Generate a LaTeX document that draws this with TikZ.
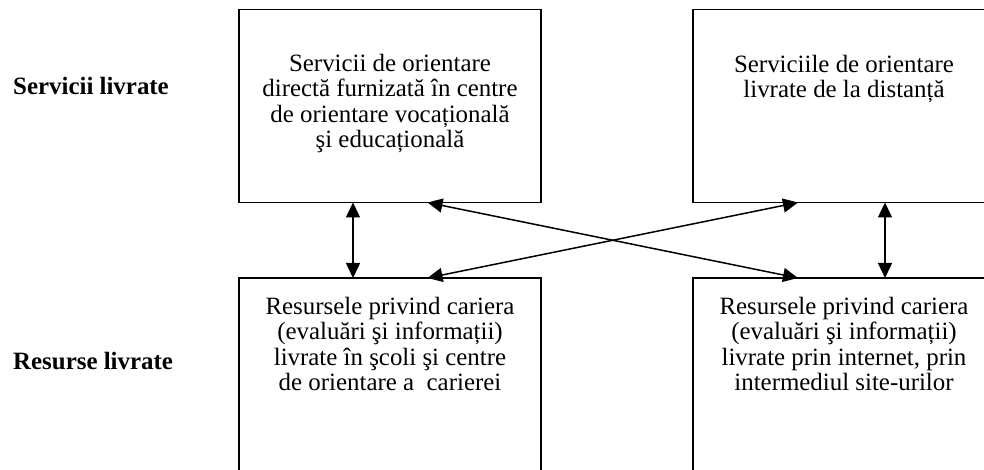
\documentclass[tikz,border=0pt]{standalone}
\usepackage{fontspec}
\setmainfont{Liberation Serif}
\usetikzlibrary{arrows.meta,calc}
\tikzset{
  box/.style={draw=black, line width=1.8pt, minimum width=302pt, inner sep=0pt, outer sep=0pt},
  boxtxt/.style={align=center, inner sep=0pt, anchor=north, font=\fontsize{24.9}{25.4}\selectfont},
  lbl/.style={inner sep=0pt, anchor=base west, font=\fontsize{24.9}{25.4}\selectfont\bfseries},
  link/.style={line width=1.5pt, {Triangle[length=15pt,width=14pt]}-{Triangle[length=15pt,width=14pt]}}
}
\begin{document}
\begin{tikzpicture}[x=1pt,y=1pt]
\useasboundingbox (0,0) rectangle (984,470);
\clip (0,0) rectangle (984,470);
% boxes
\node[box, minimum height=193pt] (tl) at (390,364) {};
\node[box, minimum height=193pt] (tr) at (844,364) {};
\node[box, minimum height=194pt] (bl) at (390,95) {};
\node[box, minimum height=194pt] (br) at (844,95) {};
% texts
\node[boxtxt] (tltxt) at (390,416) {Servicii de orientare\\directă furnizată în centre\\de orientare vocațională\\şi educațională};
\node[boxtxt] (trtxt) at (844,415) {Serviciile de orientare\\livrate de la distanță};
\node[boxtxt] (bltxt) at (390,173) {Resursele privind cariera\\(evaluări şi informații)\\livrate în şcoli şi centre\\de orientare a\ \ carierei};
\node[boxtxt] (brtxt) at (844,173) {Resursele privind cariera\\(evaluări şi informații)\\livrate prin internet, prin\\intermediul site-urilor};
% side labels
\node[lbl] (l1) at (13,375) {Servicii livrate};
\node[lbl] (l2) at (13,100) {Resurse livrate};
% connectors
\coordinate (a1) at ($(tl.south west)+(114,0)$);
\coordinate (a2) at ($(bl.north west)+(114,0)$);
\coordinate (b1) at ($(tr.south west)+(192,0)$);
\coordinate (b2) at ($(br.north west)+(192,0)$);
\coordinate (c1) at ($(tl.south west)+(188.5,0)$);
\coordinate (c2) at ($(br.north west)+(105,0)$);
\coordinate (d1) at ($(tr.south west)+(105,0)$);
\coordinate (d2) at ($(bl.north west)+(188.5,0)$);
\draw[link] (a1) -- (a2);
\draw[link] (b1) -- (b2);
\draw[link] (c1) -- (c2);
\draw[link] (d1) -- (d2);
\end{tikzpicture}
\end{document}
